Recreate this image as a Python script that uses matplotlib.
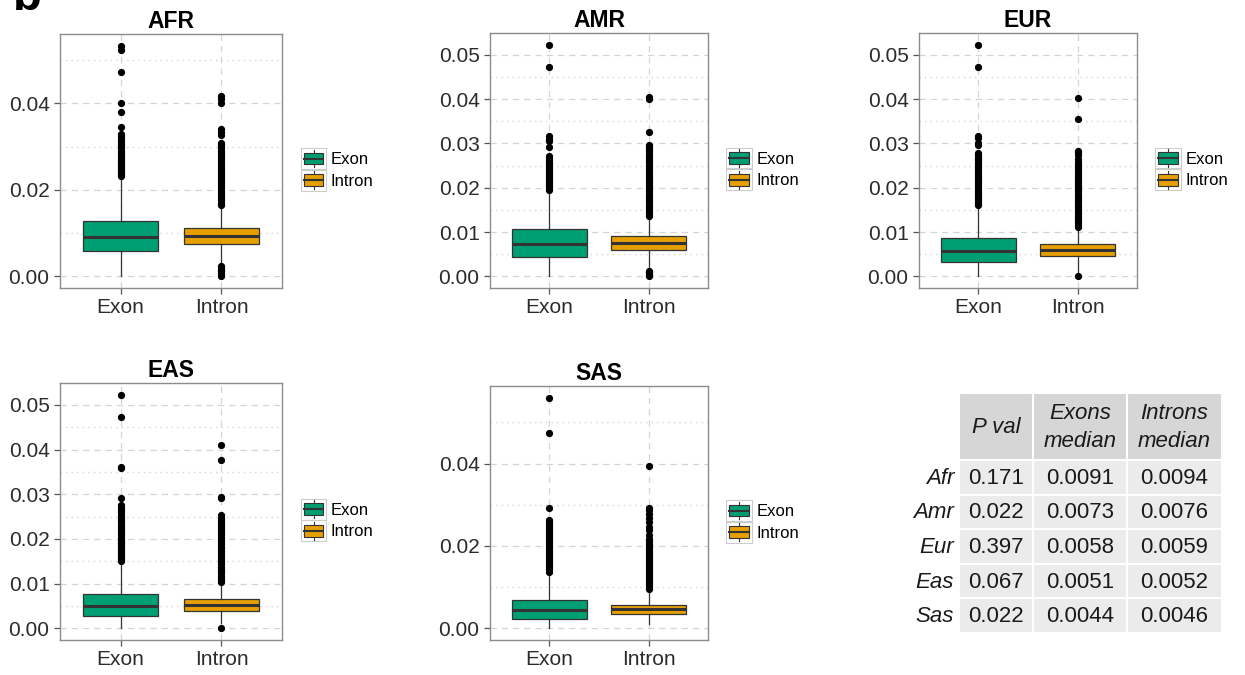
import matplotlib
matplotlib.use("Agg")
import matplotlib.pyplot as plt
from matplotlib.patches import Patch, Rectangle
from matplotlib.lines import Line2D
from matplotlib.legend_handler import HandlerBase

plt.rcParams['font.family'] = ['Liberation Sans', 'DejaVu Sans']

populations = ["AFR", "AMR", "EUR", "EAS", "SAS"]
groups = ["Exon", "Intron"]
group_colors = ["#009E73", "#E69F00"]

# medians (also shown in the table)
exon_median = [0.0091, 0.0073, 0.0058, 0.0051, 0.0044]
intron_median = [0.0094, 0.0076, 0.0059, 0.0052, 0.0046]
p_values = ["0.171", "0.022", "0.397", "0.067", "0.022"]

# box stats: q1, q3, whisker low, whisker high
afr_exon = [0.0059, 0.0128, 0.0, 0.0228]
afr_intron = [0.0074, 0.0111, 0.0028, 0.0163]
amr_exon = [0.00445, 0.0106, 0.0, 0.0193]
amr_intron = [0.0060, 0.0091, 0.0017, 0.0136]
eur_exon = [0.0033, 0.0086, 0.0, 0.0159]
eur_intron = [0.0045, 0.0072, 0.0008, 0.0110]
eas_exon = [0.0027, 0.0076, 0.0, 0.0148]
eas_intron = [0.0039, 0.0066, 0.0012, 0.0101]
sas_exon = [0.0022, 0.0070, 0.0, 0.0133]
sas_intron = [0.0034, 0.0058, 0.0010, 0.0093]

# outliers
afr_exon_out = [0.0232, 0.0236, 0.0240, 0.0244, 0.0248, 0.0252, 0.0256, 0.0260,
                0.0264, 0.0268, 0.0272, 0.0276, 0.0280, 0.0285, 0.0290, 0.0296,
                0.0301, 0.0306, 0.0313, 0.0318, 0.0324, 0.0330, 0.0345, 0.0380,
                0.0402, 0.0472, 0.0523, 0.0534]
afr_intron_out = [0.0000, 0.0004, 0.0008, 0.0012, 0.0016, 0.0020, 0.0024,
                  0.0166, 0.0171, 0.0176, 0.0181, 0.0186, 0.0191, 0.0196, 0.0201,
                  0.0206, 0.0211, 0.0216, 0.0221, 0.0226, 0.0231, 0.0236, 0.0241,
                  0.0246, 0.0251, 0.0256, 0.0261, 0.0266, 0.0271, 0.0276, 0.0281,
                  0.0286, 0.0291, 0.0296, 0.0301, 0.0306, 0.0309, 0.0328, 0.0334,
                  0.0340, 0.0402, 0.0410, 0.0418]
amr_exon_out = [0.0195, 0.0199, 0.0203, 0.0207, 0.0211, 0.0215, 0.0219, 0.0223,
                0.0227, 0.0231, 0.0235, 0.0239, 0.0243, 0.0247, 0.0251, 0.0255,
                0.0259, 0.0263, 0.0267, 0.0272, 0.0291, 0.0306, 0.0311, 0.0316,
                0.0472, 0.0523]
amr_intron_out = [0.0000, 0.0003, 0.0007, 0.0010, 0.0013,
                  0.0137, 0.0142, 0.0147, 0.0152, 0.0157, 0.0162, 0.0167, 0.0172,
                  0.0177, 0.0182, 0.0187, 0.0192, 0.0197, 0.0202, 0.0207, 0.0212,
                  0.0217, 0.0222, 0.0227, 0.0232, 0.0237, 0.0242, 0.0247, 0.0252,
                  0.0257, 0.0262, 0.0267, 0.0272, 0.0277, 0.0282, 0.0287, 0.0292,
                  0.0297, 0.0325, 0.0400, 0.0405]
eur_exon_out = [0.0162, 0.0166, 0.0170, 0.0174, 0.0178, 0.0182, 0.0186, 0.0190,
                0.0194, 0.0198, 0.0202, 0.0206, 0.0210, 0.0214, 0.0218, 0.0222,
                0.0226, 0.0230, 0.0234, 0.0238, 0.0242, 0.0246, 0.0250, 0.0254,
                0.0258, 0.0262, 0.0266, 0.0270, 0.0274, 0.0278, 0.0296, 0.0301,
                0.0312, 0.0317, 0.0472, 0.0523]
eur_intron_out = [0.0000, 0.0112, 0.0117, 0.0122, 0.0127, 0.0132, 0.0137, 0.0142,
                  0.0147, 0.0152, 0.0157, 0.0162, 0.0167, 0.0172, 0.0177, 0.0182,
                  0.0187, 0.0192, 0.0197, 0.0202, 0.0207, 0.0212, 0.0217, 0.0222,
                  0.0227, 0.0232, 0.0237, 0.0242, 0.0247, 0.0252, 0.0258, 0.0265,
                  0.0275, 0.0280, 0.0284, 0.0355, 0.0402]
eas_exon_out = [0.0150, 0.0154, 0.0158, 0.0162, 0.0166, 0.0170, 0.0174, 0.0178,
                0.0182, 0.0186, 0.0190, 0.0194, 0.0198, 0.0202, 0.0208, 0.0214,
                0.0218, 0.0222, 0.0226, 0.0232, 0.0238, 0.0242, 0.0248, 0.0254,
                0.0260, 0.0265, 0.0270, 0.0275, 0.0291, 0.0358, 0.0361, 0.0473,
                0.0523]
eas_intron_out = [0.0000, 0.0103, 0.0108, 0.0113, 0.0118, 0.0123, 0.0128, 0.0133,
                  0.0138, 0.0143, 0.0148, 0.0153, 0.0158, 0.0163, 0.0168, 0.0173,
                  0.0178, 0.0183, 0.0188, 0.0193, 0.0198, 0.0203, 0.0208, 0.0213,
                  0.0218, 0.0223, 0.0228, 0.0233, 0.0238, 0.0243, 0.0248, 0.0253,
                  0.0292, 0.0295, 0.0377, 0.0411]
sas_exon_out = [0.0138, 0.0143, 0.0148, 0.0153, 0.0158, 0.0163, 0.0168, 0.0173,
                0.0178, 0.0183, 0.0188, 0.0193, 0.0198, 0.0203, 0.0208, 0.0213,
                0.0218, 0.0223, 0.0228, 0.0233, 0.0238, 0.0243, 0.0248, 0.0253,
                0.0258, 0.0263, 0.0293, 0.0473, 0.0560]
sas_intron_out = [0.0096, 0.0101, 0.0106, 0.0111, 0.0116, 0.0121, 0.0126, 0.0131,
                  0.0136, 0.0141, 0.0146, 0.0151, 0.0156, 0.0161, 0.0166, 0.0171,
                  0.0176, 0.0181, 0.0186, 0.0191, 0.0196, 0.0201, 0.0206, 0.0211,
                  0.0216, 0.0226, 0.0238, 0.0245, 0.0258, 0.0268, 0.0278, 0.0287,
                  0.0293, 0.0394]

table_rows = ["Afr", "Amr", "Eur", "Eas", "Sas"]
table_cols = ["P val", "Exons\nmedian", "Introns\nmedian"]

box_stats = [(afr_exon, afr_intron), (amr_exon, amr_intron), (eur_exon, eur_intron),
             (eas_exon, eas_intron), (sas_exon, sas_intron)]
outliers = [(afr_exon_out, afr_intron_out), (amr_exon_out, amr_intron_out),
            (eur_exon_out, eur_intron_out), (eas_exon_out, eas_intron_out),
            (sas_exon_out, sas_intron_out)]

W, H = 1245, 675
# panel boxes in pixels: left, top, right, bottom
panel_px = [(60, 34, 282, 288), (490, 33, 708, 288), (919, 33, 1137, 288),
            (60, 383, 282, 640), (490, 386, 708, 640)]
tick_step = [0.02, 0.01, 0.01, 0.01, 0.02]

edge = "#333333"
gridc = "#d4d4d4"


class BoxKey(HandlerBase):
    def create_artists(self, legend, orig_handle, xd, yd, w, h, fontsize, trans):
        x0, y0 = -xd, -yd
        fc = orig_handle.get_facecolor()
        bg = Rectangle((x0, y0), w, h, facecolor="white", edgecolor="#cccccc",
                       lw=0.8, transform=trans)
        wl = Line2D([x0 + w / 2] * 2, [y0 + 0.08 * h, y0 + 0.92 * h], color=edge,
                    lw=0.8, transform=trans)
        box = Rectangle((x0 + 0.12 * w, y0 + 0.22 * h), 0.76 * w, 0.56 * h,
                        facecolor=fc, edgecolor=edge, lw=0.8, transform=trans)
        med = Line2D([x0 + 0.12 * w, x0 + 0.88 * w], [y0 + h / 2] * 2, color=edge,
                     lw=1.5, transform=trans)
        return [bg, wl, box, med]


fig = plt.figure(figsize=(W / 100, H / 100), dpi=100)

for i, pop in enumerate(populations):
    l, t, r, b = panel_px[i]
    ax = fig.add_axes([l / W, 1 - b / H, (r - l) / W, (b - t) / H])
    meds = (exon_median[i], intron_median[i])
    stats = []
    for j in range(2):
        q1, q3, lo, hi = box_stats[i][j]
        stats.append(dict(med=meds[j], q1=q1, q3=q3, whislo=lo, whishi=hi,
                          fliers=outliers[i][j], label=groups[j]))
    parts = ax.bxp(stats, positions=[1, 2], widths=0.75, patch_artist=True,
                   showcaps=False,
                   boxprops=dict(edgecolor=edge, linewidth=0.9),
                   medianprops=dict(color=edge, linewidth=2.2),
                   whiskerprops=dict(color=edge, linewidth=0.9),
                   flierprops=dict(marker="o", markerfacecolor="black",
                                   markeredgecolor="black", markersize=4.2,
                                   linestyle="none"))
    for patch, c in zip(parts["boxes"], group_colors):
        patch.set_facecolor(c)

    allv = [v for j in range(2) for v in outliers[i][j]] + [s[3] for s in box_stats[i]]
    top = max(allv)
    bot = 0.0
    pad = 0.05 * (top - bot)
    ax.set_ylim(bot - pad, top + pad)
    ax.set_xlim(0.4, 2.6)

    step = tick_step[i]
    majors = []
    v = 0.0
    while v <= top + 1e-9:
        majors.append(round(v, 4))
        v += step
    minors = [round(m + step / 2, 4) for m in majors if m + step / 2 <= top + pad]
    ax.set_yticks(majors)
    ax.set_yticklabels(["%.2f" % m for m in majors])
    ax.set_yticks(minors, minor=True)
    ax.set_xticks([1, 2])
    ax.set_xticklabels(groups)

    ax.set_axisbelow(True)
    ax.grid(which="major", linestyle=(0, (5, 4)), color=gridc, linewidth=0.9)
    ax.grid(which="minor", axis="y", linestyle=(0, (1, 3)), color=gridc, linewidth=1.0)
    ax.tick_params(which="major", labelsize=15, labelcolor="#2b2b2b",
                   color="#555555", length=4, width=0.9)
    ax.tick_params(which="minor", length=0)
    for s in ax.spines.values():
        s.set_color("#8c8c8c")
        s.set_linewidth(1.0)
    ax.set_title(pop, fontsize=16.5, fontweight="bold", pad=4)

    handles = [Patch(facecolor=c, label=g) for g, c in zip(groups, group_colors)]
    ax.legend(handles=handles, handler_map={Patch: BoxKey()}, loc="center left",
              bbox_to_anchor=(1.084, 0.467), frameon=False, fontsize=12,
              handlelength=1.55, handleheight=1.55, labelspacing=0.05,
              handletextpad=0.25, borderpad=0, borderaxespad=0)

# table of p values and medians
tl, tt, tr, tb = 959, 393, 1222, 633
tax = fig.add_axes([tl / W, 1 - tb / H, (tr - tl) / W, (tb - tt) / H])
tax.set_xlim(0, tr - tl)
tax.set_ylim(tb - tt, 0)
tax.axis("off")
col_edges = [0, 74, 168, 263]
head_h = 67
row_h = (tb - tt - head_h) / len(table_rows)
cells = [p_values, ["%.4f" % v for v in exon_median], ["%.4f" % v for v in intron_median]]
for c in range(3):
    x0, x1 = col_edges[c], col_edges[c + 1]
    tax.add_patch(Rectangle((x0, 0), x1 - x0, head_h, facecolor="#d6d6d6",
                            edgecolor="white", lw=1.5))
    tax.text((x0 + x1) / 2, head_h / 2 + 1, table_cols[c], ha="center", va="center",
             fontsize=16, style="italic", color="#1a1a1a", linespacing=1.45)
    for r in range(len(table_rows)):
        y0 = head_h + r * row_h
        tax.add_patch(Rectangle((x0, y0), x1 - x0, row_h, facecolor="#ebebeb",
                                edgecolor="white", lw=1.5))
        tax.text((x0 + x1) / 2, y0 + row_h / 2 + 1, cells[c][r], ha="center",
                 va="center", fontsize=16, color="#1a1a1a")
for r, name in enumerate(table_rows):
    tax.text(-5, head_h + (r + 0.5) * row_h + 1, name, ha="right", va="center",
             fontsize=16, style="italic", color="#1a1a1a", clip_on=False)

fig.text(13 / W, 1 - 10 / H, "b", fontsize=34, fontweight="bold", va="baseline",
         ha="left")

fig.savefig("out.png", dpi=100)
